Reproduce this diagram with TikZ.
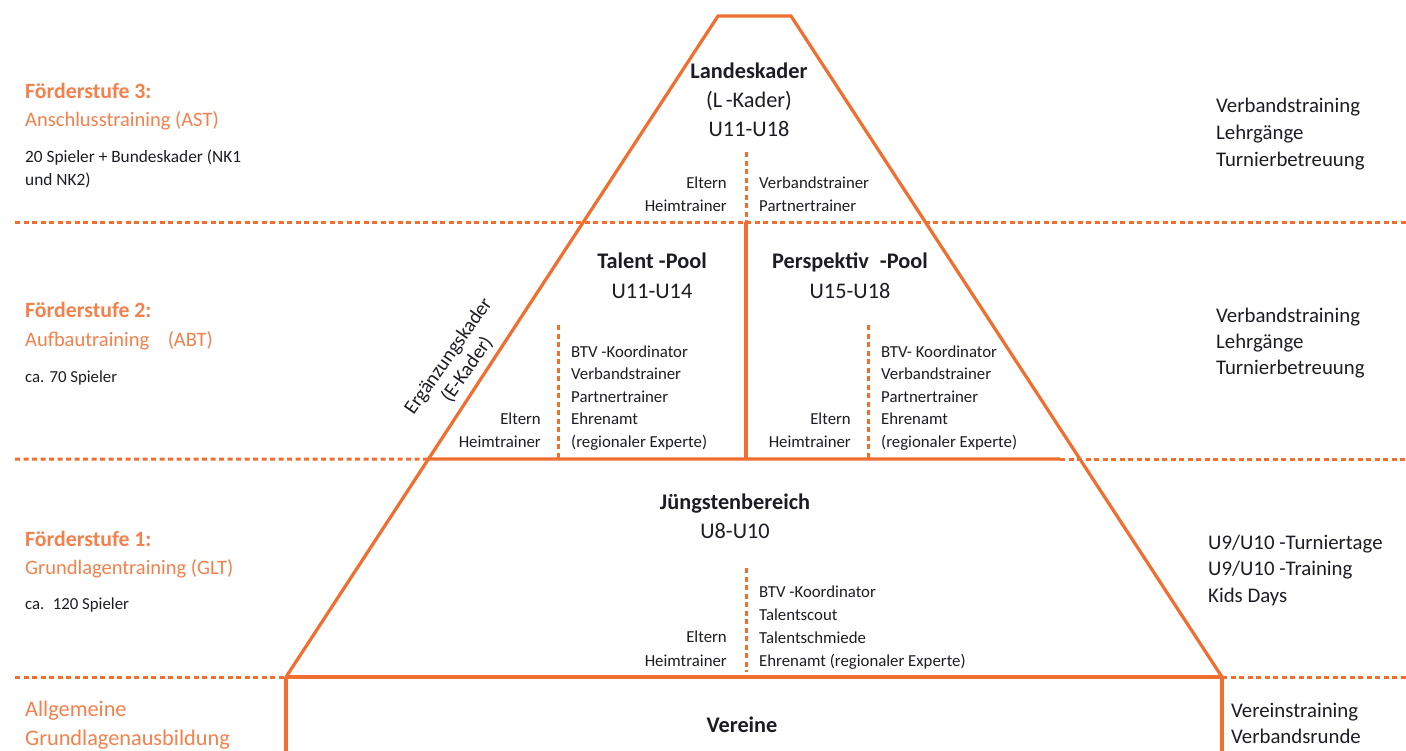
\documentclass[tikz,border=0pt]{standalone}
\usepackage{fontspec}
\setmainfont{Carlito}

\definecolor{foerder}{RGB}{240,110,48}
\definecolor{foerdertext}{RGB}{244,128,76}
\definecolor{schrift}{RGB}{28,28,36}

\tikzset{
	wall/.style={draw=foerder, line width=3.2pt},
	grenze/.style={draw=foerder, line width=3pt, dash pattern=on 5pt off 3.5pt},
	big/.style={font=\fontsize{20.8}{24}\selectfont, text=schrift, inner sep=0pt},
	mid/.style={font=\fontsize{22.3}{26}\selectfont, text=schrift, inner sep=0pt},
	small/.style={font=\fontsize{16.8}{20}\selectfont, text=schrift, inner sep=0pt},
	stufe/.style={font=\fontsize{20.5}{24}\selectfont, text=foerdertext, inner sep=0pt},
}
\newcommand{\stufenkopf}[1]{{\fontsize{21.8}{25}\selectfont\bfseries #1}}

% one node per text line: name, style, x, first baseline, line step, lines
\newcommand{\zeilen}[6]{%
	\foreach \txt [count=\n] in {#6}
		\node[#2] (#1-\n) at (#3, #4 + \n*#5 - #5) {\txt};}

\begin{document}
\begin{tikzpicture}[x=1pt, y=-1pt]
	\useasboundingbox (0,0) rectangle (1406,750);
	% Pyramid outline:
	\coordinate (spitzeL) at (718,16);
	\coordinate (spitzeR) at (791,16);
	\coordinate (fussL) at (286,677);
	\coordinate (fussR) at (1222,677);
	\coordinate (mitte2) at (intersection of fussL--spitzeL and 0,459--1406,459);
	\coordinate (ende2) at (1060,459);
	\draw[wall, line join=miter] (fussL) -- (spitzeL) -- (spitzeR) -- (fussR);
	\draw[wall] (fussL) -- (fussR);
	\draw[wall] (fussL) -- (286,752);
	\draw[wall] (fussR) -- (1222,752);
	\draw[wall] (mitte2) -- (ende2);
	\draw[wall] (746,222) -- (746,459);
	% Level borders and dotted separators:
	\draw[grenze] (15,222) -- (1406,222);
	\draw[grenze] (15,459) -- (mitte2);
	\draw[grenze] (ende2) -- (1406,459);
	\draw[grenze] (15,677) -- (fussL);
	\draw[grenze] (fussR) -- (1406,677);
	\draw[grenze] (746,152) -- (746,222);
	\draw[grenze] (558,325) -- (558,459);
	\draw[grenze] (868,325) -- (868,459);
	\draw[grenze] (746,568) -- (746,672);

	% Foerderstufe 3:
	\zeilen{stufeD}{stufe, anchor=base west}{25}{98}{28}{\stufenkopf{Förderstufe 3:}, Anschlusstraining (AST)}
	\zeilen{anzD}{small, font=\fontsize{17.3}{20}\selectfont, anchor=base west}{25}{162}{23}{20 Spieler + Bundeskader (NK1, und NK2)}
	\zeilen{land}{mid, anchor=base}{749}{78}{29}{\textbf{Landeskader}, (L\,-Kader), U11-U18}
	\zeilen{elternD}{small, anchor=base east}{727}{188}{23}{Eltern, Heimtrainer}
	\zeilen{trainerD}{small, anchor=base west}{759}{188}{23}{Verbandstrainer, Partnertrainer}
	\zeilen{angebotD}{big, anchor=base west}{1216}{112}{27}{Verbandstraining, Lehrgänge, Turnierbetreuung}

	% Foerderstufe 2:
	\zeilen{stufeB}{stufe, anchor=base west}{25}{317}{29}{\stufenkopf{Förderstufe 2:}, Aufbautraining\hspace{0.9em}(ABT)}
	\zeilen{anzB}{small, anchor=base west}{25}{382}{23}{ca. 70 Spieler}
	\zeilen{talent}{mid, anchor=base}{652}{268}{30}{\textbf{Talent -Pool}, U11-U14}
	\zeilen{persp}{mid, anchor=base}{850}{268}{30}{\textbf{Perspektiv\hspace{0.5em}-Pool}, U15-U18}
	\zeilen{elternT}{small, anchor=base east}{541}{424}{23}{Eltern, Heimtrainer}
	\zeilen{trainerT}{small, anchor=base west}{571}{357}{22.5}{BTV -Koordinator, Verbandstrainer, Partnertrainer, Ehrenamt, (regionaler Experte)}
	\zeilen{elternP}{small, anchor=base east}{851}{424}{23}{Eltern, Heimtrainer}
	\zeilen{trainerP}{small, anchor=base west}{881}{357}{22.5}{BTV- Koordinator, Verbandstrainer, Partnertrainer, Ehrenamt, (regionaler Experte)}
	\node[small, font=\fontsize{20}{23}\selectfont, align=center, rotate=55] (ekader) at (458,363) {Ergänzungskader\\(E-Kader)};
	\zeilen{angebotB}{big, anchor=base west}{1216}{322}{26}{Verbandstraining, Lehrgänge, Turnierbetreuung}

	% Foerderstufe 1:
	\zeilen{stufeA}{stufe, anchor=base west}{25}{546}{28}{\stufenkopf{Förderstufe 1:}, Grundlagentraining (GLT)}
	\zeilen{anzA}{small, anchor=base west}{25}{609}{23}{ca.\hspace{0.5em}120 Spieler}
	\zeilen{juengste}{mid, anchor=base}{735}{509}{29}{\textbf{Jüngstenbereich}, U8-U10}
	\zeilen{elternJ}{small, anchor=base east}{727}{642}{24}{Eltern, Heimtrainer}
	\zeilen{trainerJ}{small, anchor=base west}{759}{597}{23}{BTV -Koordinator, Talentscout, Talentschmiede, Ehrenamt (regionaler Experte)}
	\zeilen{angebotA}{big, anchor=base west}{1208}{549}{26.5}{U9/U10 -Turniertage, U9/U10 -Training, Kids Days}

	% Vereine:
	\zeilen{basis}{stufe, font=\fontsize{22.3}{26}\selectfont, anchor=base west}{25}{716}{29}{Allgemeine, Grundlagenausbildung}
	\node[mid, anchor=base] (vereine) at (742,732) {\textbf{Vereine}};
	\zeilen{angebotV}{big, anchor=base west}{1231}{717}{26}{Vereinstraining, Verbandsrunde}
\end{tikzpicture}
\end{document}
